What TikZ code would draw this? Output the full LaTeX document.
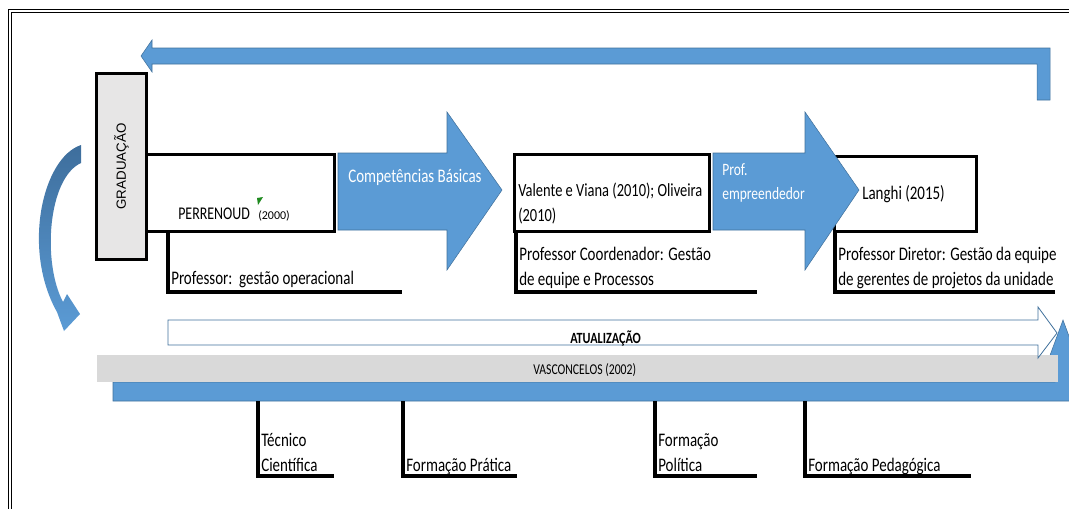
\documentclass[tikz,border=0pt]{standalone}
\usepackage{fontspec}
\setmainfont[FakeStretch=0.78]{Carlito}
\newfontfamily\plainfont{Carlito}
\newfontfamily\gradfont{Liberation Sans}
\usetikzlibrary{positioning}
\definecolor{officeblue}{HTML}{5B9BD5}
\definecolor{edgeblue}{HTML}{41719C}
\definecolor{darkblue}{HTML}{3E6E9C}
\definecolor{boxgray}{HTML}{E7E6E6}
\definecolor{bargray}{HTML}{D9D9D9}
\definecolor{markgreen}{HTML}{1F8A1F}
\newcommand{\mainsize}{\fontsize{14.4}{18.75}\selectfont}

\begin{document}
\begin{tikzpicture}[x=0.75pt, y=-0.75pt, line join=miter]
\tikzstyle{blockarrow}=[fill=officeblue, draw=edgeblue, line width=0.4pt]
\tikzstyle{heavy}=[draw=black, line width=2.3pt]
\tikzstyle{txt}=[inner sep=0pt, anchor=base west, align=left, font=\mainsize]
\clip (0,0) rectangle (1069,508);

% frame
\draw[line width=0.6pt] (8,520) -- (8,9) -- (1080,9);
\draw[line width=0.6pt] (11,520) -- (11,12) -- (1080,12);

% return arrow on top
\draw[blockarrow] (141,56) -- (152,40) -- (152,48) -- (1050,48) -- (1050,100)
  -- (1037,100) -- (1037,64) -- (152,64) -- (152,72) -- cycle;

% curved arrow
\shade[top color=darkblue, bottom color=officeblue]
  (81,145) .. controls (42,158) and (22,250) .. (57,312) -- (64,331) -- (80,314)
  -- (67,294) -- (63,302) .. controls (42,262) and (48,178) .. (81,163) -- cycle;

% graduacao
\node[draw=black, line width=2.3pt, fill=boxgray, anchor=north west,
  minimum width=50*0.75pt, minimum height=186*0.75pt] (grad) at (95,72) {};
\node[rotate=90, font=\gradfont\fontsize{10}{12}\selectfont] (gradtxt) at (grad.center) {GRADUAÇÃO};

% boxes
\node[heavy, fill=white, anchor=north west, minimum width=188*0.75pt,
  minimum height=77*0.75pt] (perr) at (145,153) {};
\node[heavy, anchor=north west, minimum width=195*0.75pt,
  minimum height=77*0.75pt] (vale) at (513,153) {};
\node[heavy, anchor=north west, minimum width=142*0.75pt,
  minimum height=75*0.75pt] (langhi) at (833,155) {};

% block arrows
\draw[blockarrow] (338,153) -- (447,153) -- (447,112) -- (502,190) -- (447,270)
  -- (447,230) -- (338,230) -- cycle;
\draw[blockarrow] (713,153) -- (805,153) -- (805,112) -- (859,190) -- (805,270)
  -- (805,230) -- (713,230) -- cycle;

% texts in boxes
\node[txt, font=\fontsize{13.4}{16}\selectfont] (perrtxt) at (178,219) {PERRENOUD};
\node[txt, font=\plainfont\fontsize{9}{11}\selectfont] (perryear) at (258,219) {(2000)};
\fill[markgreen] (257,198) -- (263,197) -- (258,205) -- cycle;
\node[txt, text=white] (comp) at (348,182) {Competências Básicas};
\node[txt, font=\fontsize{13.9}{18.75}\selectfont] (valetxt) at (518,221) {Valente e Viana (2010); Oliveira\\(2010)};
\node[txt, text=white, font=\fontsize{13}{17.5}\selectfont] (emp) at (722,199) {Prof.\\empreendedor};
\node[txt] (langhitxt) at (862,199) {Langhi (2015)};

% brackets under boxes
\draw[heavy] (168,230) |- (402,292);
\draw[heavy] (516,230) |- (757,292);
\draw[heavy] (835,230) |- (1055,292);
\node[txt] (oper) at (171,284) {Professor:\ \ gestão operacional};
\node[txt] (coord) at (519,285) {Professor Coordenador: Gestão\\de equipe e Processos};
\node[txt] (dir) at (838,285) {Professor Diretor: Gestão da equipe\\de gerentes de projetos da unidade};

% vasconcelos
\draw[blockarrow] (113,382) -- (1055,382) -- (1055,358) -- (1049,358) -- (1063,320)
  -- (1077,358) -- (1071,358) -- (1071,401) -- (113,401) -- cycle;
\fill[bargray] (97,355) rectangle (1058,382);
\node[txt, font=\fontsize{11.25}{14}\selectfont] (vasc) at (533,374) {VASCONCELOS (2002)};

% atualizacao
\draw[fill=white, draw=edgeblue, line width=0.6pt] (168,320) -- (1038,320) -- (1038,307)
  -- (1057,333) -- (1038,358) -- (1038,345) -- (168,345) -- cycle;
\node[txt, font=\bfseries\fontsize{11.7}{14}\selectfont] (atual) at (570,343) {ATUALIZAÇÃO};

% formations
\draw[heavy] (258,401) |- (334,476);
\draw[heavy] (403,401) |- (517,476);
\draw[heavy] (655,401) |- (757,476);
\draw[heavy] (805,401) |- (971,476);
\node[txt] (tec) at (261,471) {Técnico\\Científica};
\node[txt] (prat) at (406,471) {Formação Prática};
\node[txt] (pol) at (658,471) {Formação\\Política};
\node[txt] (ped) at (808,471) {Formação Pedagógica};
\end{tikzpicture}
\end{document}
